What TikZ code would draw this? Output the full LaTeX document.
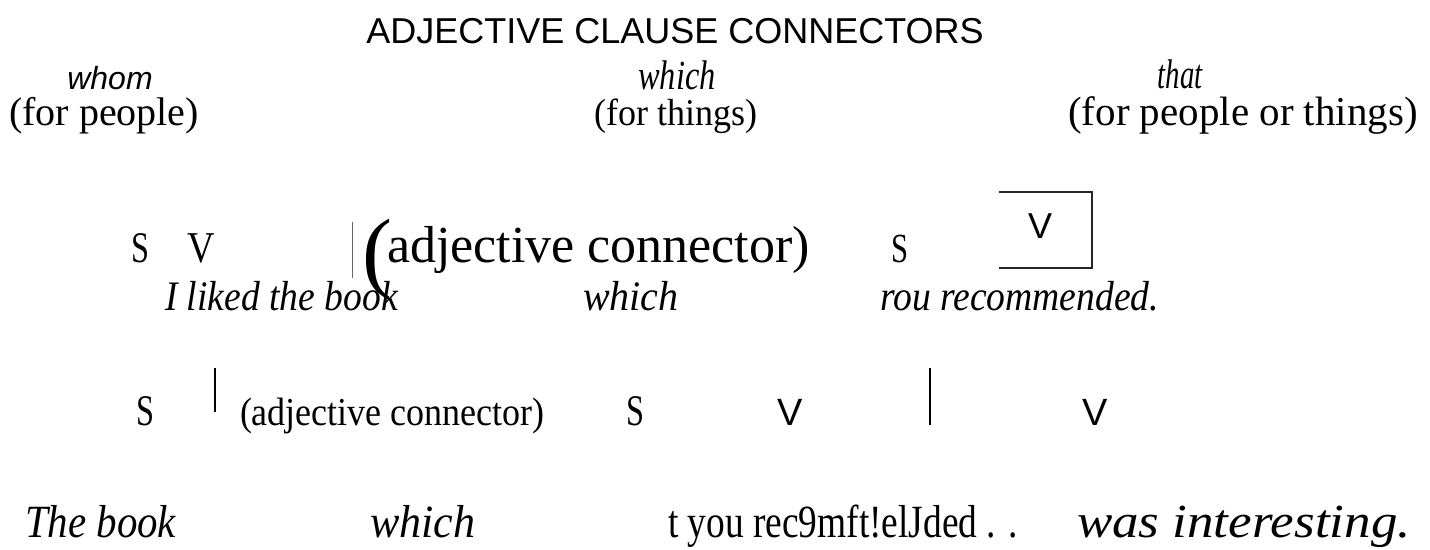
\documentclass[tikz,border=0pt]{standalone}
\usepackage{fontspec}
\usepackage{graphicx}
\setmainfont{Liberation Serif}
\setsansfont{Liberation Sans}
\newcommand{\sqz}[3]{\scalebox{#1}[#2]{#3}}
\begin{document}
\begin{tikzpicture}[x=1pt,y=-1pt,
  txt/.style={inner sep=0pt,outer sep=0pt,anchor=base west},
  ctr/.style={inner sep=0pt,outer sep=0pt,anchor=base},
  bar/.style={line width=2pt,black},
  thinbar/.style={line width=1pt,black!60},
  boxline/.style={line width=2.6pt,black!85,line cap=rect}]
\useasboundingbox (0,0) rectangle (1430,549);
% title and headings
\node[ctr,font=\sffamily\fontsize{36}{40}\selectfont] (title) at (675,43) {ADJECTIVE CLAUSE CONNECTORS};
\node[ctr,font=\sffamily\itshape\fontsize{32}{36}\selectfont] (whom) at (110,89) {whom};
\node[ctr,font=\fontsize{40}{44}\selectfont] (forpeople) at (104,125) {(for people)};
\node[ctr,font=\itshape\fontsize{36}{40}\selectfont] (which) at (677,89) {\sqz{0.9}{1.15}{which}};
\node[ctr,font=\fontsize{36}{44}\selectfont] (forthings) at (676,125) {\sqz{1}{1.05}{(for things)}};
\node[ctr,font=\itshape\fontsize{36}{40}\selectfont] (that) at (1180,88) {\sqz{0.8}{1.15}{that}};
\node[ctr,font=\fontsize{41}{44}\selectfont] (forboth) at (1243,125) {(for people or things)};
% row 1 labels
\node[ctr,font=\fontsize{38}{40}\selectfont] (s1) at (140,262) {\sqz{0.85}{1.15}{S}};
\node[ctr,font=\fontsize{40}{44}\selectfont] (v1) at (201,262) {\sqz{0.95}{1.1}{V}};
\coordinate (b1t) at (352,222);
\coordinate (b1b) at (352,278);
\draw[thinbar] (b1t) -- (b1b);
\node[ctr,font=\fontsize{90}{96}\selectfont] (lp1) at (377,281) {(};
\node[txt,font=\fontsize{52}{56}\selectfont] (adj1) at (387,262) {adjective connector)};
\node[ctr,font=\fontsize{36}{40}\selectfont] (s2) at (900,262) {\sqz{0.85}{1.15}{S}};
\coordinate (bx1) at (1000,192);
\coordinate (bx2) at (1092,192);
\coordinate (bx3) at (1092,268);
\coordinate (bx4) at (1000,268);
\draw[boxline] (bx1) -- (bx2) -- (bx3) -- (bx4);
\node[ctr,font=\sffamily\fontsize{36}{40}\selectfont] (v2) at (1040,238) {V};
% sentence 1
\node[txt,font=\itshape\fontsize{40}{44}\selectfont] (sent1a) at (165,310) {\sqz{0.94}{1.05}{I liked the book}};
\node[txt,font=\itshape\fontsize{40}{44}\selectfont] (sent1b) at (583,310) {\sqz{1}{1.05}{which}};
\node[txt,font=\itshape\fontsize{40}{44}\selectfont] (sent1c) at (880,310) {\sqz{0.94}{1.05}{rou recommended.}};
% row 2 labels
\node[ctr,font=\fontsize{38}{40}\selectfont] (s3) at (145,425) {\sqz{0.85}{1.15}{S}};
\coordinate (b2t) at (215,368);
\coordinate (b2b) at (215,412);
\draw[bar] (b2t) -- (b2b);
\node[txt,font=\fontsize{36}{44}\selectfont] (adj2) at (240,425) {\sqz{1}{1.1}{(adjective connector)}};
\node[ctr,font=\fontsize{38}{40}\selectfont] (s4) at (635,425) {\sqz{0.85}{1.15}{S}};
\node[ctr,font=\sffamily\fontsize{38}{40}\selectfont] (v3) at (790,425) {V};
\coordinate (b3t) at (930,368);
\coordinate (b3b) at (930,425);
\draw[bar] (b3t) -- (b3b);
\node[ctr,font=\sffamily\fontsize{38}{40}\selectfont] (v4) at (1095,425) {V};
% sentence 2
\node[txt,font=\itshape\fontsize{44}{48}\selectfont] (sent2a) at (25,537) {\sqz{0.93}{1.05}{The book}};
\node[txt,font=\itshape\fontsize{44}{48}\selectfont] (sent2b) at (370,537) {\sqz{1}{1.05}{which}};
\node[txt,font=\fontsize{44}{48}\selectfont] (sent2c) at (668,537) {\sqz{0.85}{1.05}{t you rec9mft!elJded . .}};
\node[txt,font=\itshape\fontsize{50}{54}\selectfont] (sent2d) at (1077,537) {\sqz{1.06}{0.95}{was interesting.}};
\end{tikzpicture}
\end{document}
